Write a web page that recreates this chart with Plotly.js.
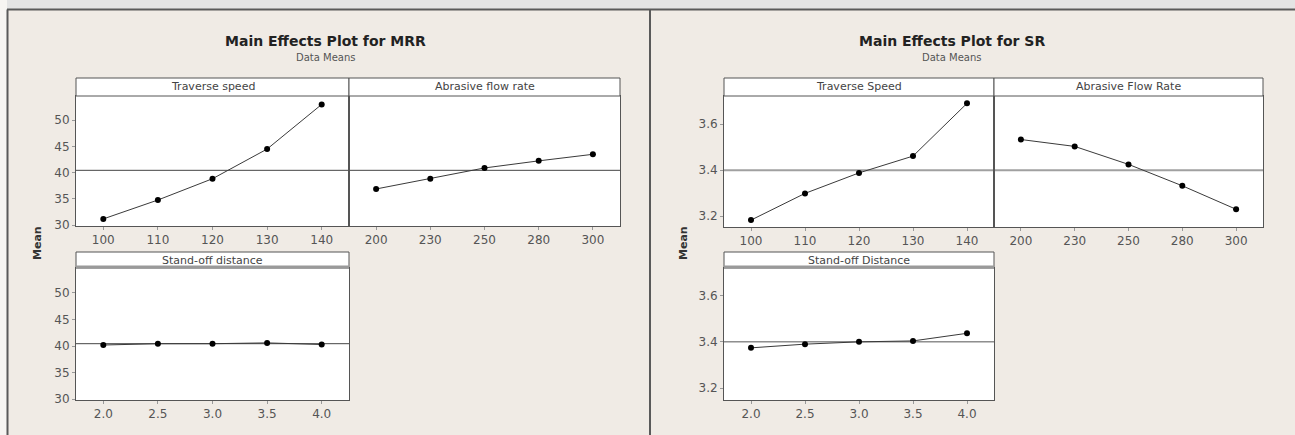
<!DOCTYPE html>
<html>
<head>
<meta charset="utf-8">
<script src="https://cdn.plot.ly/plotly-3.0.1.min.js"></script>
<style>html,body{margin:0;padding:0;background:#fff;}#chart{width:1295px;height:435px;}</style>
</head>
<body>
<div id="chart"></div>
<script>
// ---------- data ----------
const traverseLevels = ["100", "110", "120", "130", "140"];
const abrasiveLevels = ["200", "230", "250", "280", "300"];
const standoffLevels = ["2.0", "2.5", "3.0", "3.5", "4.0"];

const mrrTraverseMeans = [31.2, 34.8, 38.85, 44.5, 53.0];
const mrrAbrasiveMeans = [36.9, 38.85, 40.9, 42.25, 43.5];
const mrrStandoffMeans = [40.2, 40.45, 40.45, 40.6, 40.3];
const mrrGrandMean = 40.45;

const srTraverseMeans = [3.183, 3.299, 3.388, 3.461, 3.69];
const srAbrasiveMeans = [3.533, 3.503, 3.425, 3.332, 3.23];
const srStandoffMeans = [3.374, 3.39, 3.40, 3.404, 3.437];
const srGrandMean = 3.40;

const mrrTicks = [30, 35, 40, 45, 50];
const srTicks = [3.2, 3.4, 3.6];

const mrrStrips = ["Traverse speed", "Abrasive flow rate", "Stand-off distance"];
const srStrips = ["Traverse Speed", "Abrasive Flow Rate", "Stand-off Distance"];

const titles = ["Main Effects Plot for MRR", "Main Effects Plot for SR"];
const subtitle = "Data Means";
const yLabel = "Mean";

// ---------- layout helpers ----------
const W = 1295, H = 435;
const fx = x => x / W;
const fy = y => 1 - y / H;
const FONT = "DejaVu Sans";

const traces = [];
const shapes = [];
const annotations = [];
const layout = {
  width: W, height: H,
  margin: {l: 0, r: 0, t: 0, b: 0},
  paper_bgcolor: "#f0ebe5",
  plot_bgcolor: "#ffffff",
  showlegend: false,
  font: {family: FONT, size: 11, color: "#444"},
  shapes: shapes,
  annotations: annotations
};

// panels: [x0,x1, stripTop, plotTop, plotBottom]
const panels = [
  // MRR
  {x0: 76, x1: 349, st: 78, pt: 96, pb: 226, levels: traverseLevels, y: mrrTraverseMeans, strip: mrrStrips[0], range: [29.85, 54.6], ticks: mrrTicks, mean: mrrGrandMean, showY: true, meanCol: "#444", meanW: 1, stripThick: false},
  {x0: 349, x1: 620, st: 78, pt: 96, pb: 226, levels: abrasiveLevels, y: mrrAbrasiveMeans, strip: mrrStrips[1], range: [29.85, 54.6], ticks: mrrTicks, mean: mrrGrandMean, showY: false, meanCol: "#444", meanW: 1, stripThick: false},
  {x0: 76, x1: 349, st: 252, pt: 268, pb: 400, levels: standoffLevels, y: mrrStandoffMeans, strip: mrrStrips[2], range: [29.85, 54.7], ticks: mrrTicks, mean: mrrGrandMean, showY: true, meanCol: "#444", meanW: 1, stripThick: true},
  // SR
  {x0: 724, x1: 994, st: 78, pt: 96, pb: 227, levels: traverseLevels, y: srTraverseMeans, strip: srStrips[0], range: [3.153, 3.722], ticks: srTicks, mean: srGrandMean, showY: true, meanCol: "#a0a0a0", meanW: 2, stripThick: false},
  {x0: 994, x1: 1263, st: 78, pt: 96, pb: 227, levels: abrasiveLevels, y: srAbrasiveMeans, strip: srStrips[1], range: [3.153, 3.722], ticks: srTicks, mean: srGrandMean, showY: false, meanCol: "#a0a0a0", meanW: 2, stripThick: false},
  {x0: 724, x1: 994, st: 252, pt: 268, pb: 400, levels: standoffLevels, y: srStandoffMeans, strip: srStrips[2], range: [3.148, 3.72], ticks: srTicks, mean: srGrandMean, showY: true, meanCol: "#555", meanW: 1, stripThick: true}
];

// background pieces: top band & frame
shapes.push({type: "rect", xref: "paper", yref: "paper", x0: 0, x1: 1, y0: fy(9), y1: 1, fillcolor: "#e4e4e4", line: {width: 0}, layer: "below"});
shapes.push({type: "rect", xref: "paper", yref: "paper", x0: 0, x1: fx(7), y0: 0, y1: 1, fillcolor: "#f7f5f2", line: {width: 0}, layer: "below"});
shapes.push({type: "line", xref: "paper", yref: "paper", x0: fx(7), x1: 1, y0: fy(9.5), y1: fy(9.5), line: {color: "#5a5a5a", width: 2}});
shapes.push({type: "line", xref: "paper", yref: "paper", x0: fx(7.5), x1: fx(7.5), y0: fy(9.5), y1: 0, line: {color: "#5a5a5a", width: 2}});
shapes.push({type: "line", xref: "paper", yref: "paper", x0: fx(650), x1: fx(650), y0: fy(9.5), y1: 0, line: {color: "#5a5a5a", width: 2}});

panels.forEach((p, i) => {
  const n = i + 1;
  const xa = n === 1 ? "xaxis" : "xaxis" + n;
  const ya = n === 1 ? "yaxis" : "yaxis" + n;
  const xid = n === 1 ? "x" : "x" + n;
  const yid = n === 1 ? "y" : "y" + n;
  layout[xa] = {
    domain: [fx(p.x0), fx(p.x1)], anchor: yid, type: "category",
    range: [-0.5, 4.5], showgrid: false, zeroline: false,
    showline: true, mirror: true, linecolor: "#555", linewidth: 1,
    ticks: "outside", ticklen: 3, tickcolor: "#999",
    tickfont: {family: FONT, size: 12, color: "#555"}, fixedrange: true
  };
  layout[ya] = {
    domain: [fy(p.pb), fy(p.pt)], anchor: xid,
    range: p.range, tickvals: p.ticks, tickformat: p.ticks[0] < 10 ? ".1f" : "d",
    showgrid: false, zeroline: false,
    showline: true, mirror: true, linecolor: "#555", linewidth: 1,
    ticks: p.showY ? "outside" : "", ticklen: 3, tickcolor: "#999",
    showticklabels: p.showY,
    tickfont: {family: FONT, size: 12, color: "#555"}, fixedrange: true
  };
  // mean reference line
  shapes.push({type: "line", xref: xid + " domain", yref: yid, x0: 0, x1: 1, y0: p.mean, y1: p.mean,
    line: {color: p.meanCol, width: p.meanW}, layer: "below"});
  traces.push({
    type: "scatter", mode: "lines+markers", x: p.levels, y: p.y, xaxis: xid, yaxis: yid,
    line: {color: "#3a3a3a", width: 1}, marker: {color: "#000", size: 6}, hoverinfo: "x+y"
  });
  // strip box
  shapes.push({type: "rect", xref: "paper", yref: "paper", x0: fx(p.x0), x1: fx(p.x1), y0: fy(p.pt), y1: fy(p.st),
    fillcolor: "#ffffff", line: {color: "#555", width: 1}});
  if (p.stripThick) {
    shapes.push({type: "line", xref: "paper", yref: "paper", x0: fx(p.x0), x1: fx(p.x1), y0: fy(p.pt - 1), y1: fy(p.pt - 1),
      line: {color: "#9a9a9a", width: 3}});
  }
  annotations.push({xref: "paper", yref: "paper", x: fx((p.x0 + p.x1) / 2), y: fy((p.st + p.pt) / 2),
    text: p.strip, showarrow: false, xanchor: "center", yanchor: "middle",
    font: {family: FONT, size: 11, color: "#444"}});
});

// titles, subtitles, y labels
[[titles[0], 326, 37], [titles[1], 952, 683]].forEach(([t, cx, ylx]) => {
  annotations.push({xref: "paper", yref: "paper", x: fx(cx), y: fy(41), text: "<b>" + t + "</b>", showarrow: false,
    xanchor: "center", yanchor: "middle", font: {family: FONT, size: 14, color: "#222"}});
  annotations.push({xref: "paper", yref: "paper", x: fx(cx), y: fy(58), text: subtitle, showarrow: false,
    xanchor: "center", yanchor: "middle", font: {family: FONT, size: 10, color: "#555"}});
  annotations.push({xref: "paper", yref: "paper", x: fx(ylx), y: fy(243), text: "<b>" + yLabel + "</b>", showarrow: false,
    textangle: -90, xanchor: "center", yanchor: "middle", font: {family: FONT, size: 11, color: "#333"}});
});

Plotly.newPlot("chart", traces, layout, {displayModeBar: false, staticPlot: true});
</script>
</body>
</html>
